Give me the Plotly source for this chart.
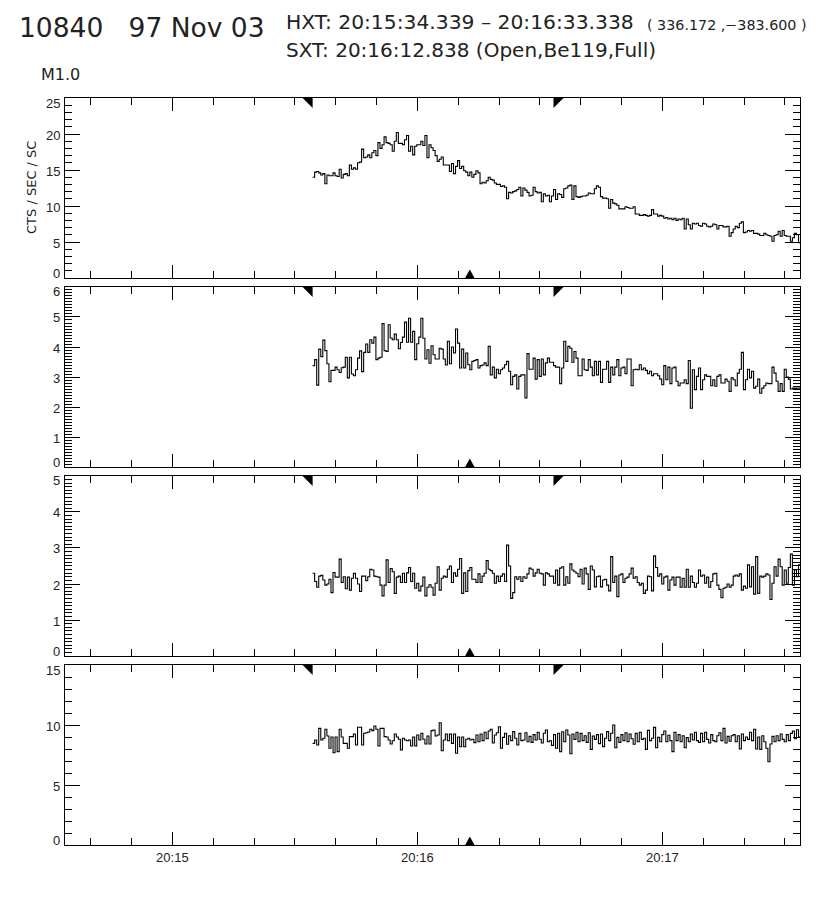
import plotly.graph_objects as go

# ---- time information (seconds after 20:00:00 UT) ----
HXT_START = 934.339   # 20:15:34.339
HXT_END = 993.338     # 20:16:33.338
SXT_TIME = 972.838    # 20:16:12.838
BIN_WIDTH = 0.5
X_RANGE = [873.7, 1053.7]
X_TICK_VALS = [900, 960, 1020]
X_TICK_TEXT = ["20:15", "20:16", "20:17"]

# ---- count rates, CTS / SEC / SC ----
panel1 = [
    14.0, 14.7, 14.8, 14.6, 14.3, 14.5, 13.1, 14.3, 14.2, 14.2,
    14.6, 14.2, 14.1, 15.1, 13.9, 14.4, 14.5, 14.2, 15.7, 15.1,
    15.3, 15.1, 16.0, 16.1, 17.9, 16.7, 16.8, 17.1, 16.7, 17.4,
    17.7, 17.0, 18.8, 18.0, 18.5, 19.6, 18.8, 18.7, 18.5, 17.6,
    19.0, 20.2, 18.7, 18.7, 18.5, 19.2, 19.8, 17.6, 18.3, 17.1,
    18.3, 18.5, 18.5, 19.0, 18.4, 19.8, 16.7, 18.5, 18.1, 17.7,
    17.0, 16.2, 16.5, 16.8, 15.7, 15.7, 15.7, 14.8, 15.9, 14.5,
    15.5, 16.3, 15.2, 15.5, 14.9, 14.7, 14.2, 14.7, 14.0, 14.4,
    14.9, 14.6, 13.1, 13.3, 13.2, 13.5, 14.0, 13.7, 13.6, 13.2,
    13.0, 13.0, 12.7, 12.8, 12.6, 11.0, 11.9, 11.8, 12.0, 12.1,
    12.3, 12.6, 11.4, 12.5, 12.2, 11.9, 11.4, 11.5, 12.6, 12.0,
    11.8, 11.9, 10.6, 11.7, 11.4, 11.5, 10.6, 11.4, 12.3, 10.9,
    11.7, 11.6, 11.2, 12.4, 12.5, 12.8, 12.9, 10.9, 12.8, 11.3,
    11.2, 11.3, 11.4, 11.4, 11.5, 11.8, 11.7, 11.7, 12.4, 12.8,
    12.6, 11.3, 11.1, 11.1, 11.0, 9.7, 10.9, 10.4, 10.3, 10.1,
    9.6, 9.6, 9.6, 9.9, 9.8, 9.7, 9.7, 9.9, 8.9, 8.9,
    8.7, 8.7, 8.8, 8.7, 8.6, 8.7, 9.5, 8.9, 8.9, 8.6,
    8.7, 8.6, 8.3, 8.4, 8.2, 8.3, 8.1, 8.3, 8.0, 8.2,
    8.1, 8.3, 6.8, 8.2, 7.4, 6.8, 7.6, 7.5, 7.6, 7.3,
    7.2, 7.6, 7.5, 7.2, 7.1, 7.2, 7.5, 7.4, 6.8, 7.3,
    7.3, 7.1, 7.1, 7.2, 5.8, 6.3, 6.8, 7.2, 7.0, 7.6,
    7.8, 6.3, 6.4, 6.6, 6.5, 6.6, 6.2, 6.2, 6.1, 5.9,
    5.9, 6.2, 6.0, 5.9, 5.8, 5.1, 5.9, 6.0, 6.5, 5.8,
    6.6, 5.9, 5.8, 5.8, 5.1, 5.6, 6.2, 6.0, 4.9, 5.3,
]

panel2 = [
    3.38, 3.58, 2.73, 3.93, 3.68, 4.23, 3.88, 3.44, 2.84, 3.22,
    3.22, 3.33, 3.24, 3.15, 3.31, 3.33, 3.66, 2.97, 3.66, 3.10,
    3.04, 3.24, 3.63, 3.87, 3.18, 3.82, 4.10, 3.82, 4.24, 4.13,
    4.33, 3.58, 3.63, 3.66, 4.78, 3.88, 3.85, 4.74, 4.30, 4.24,
    4.43, 4.24, 3.94, 4.15, 4.33, 4.83, 4.16, 4.96, 4.16, 4.52,
    3.58, 4.11, 4.33, 4.96, 4.29, 3.60, 3.91, 3.46, 4.04, 3.74,
    3.60, 3.60, 3.96, 3.93, 3.60, 3.40, 4.19, 3.44, 4.00, 3.80,
    4.60, 4.13, 3.30, 3.93, 3.30, 3.80, 3.41, 3.24, 3.52, 3.55,
    3.58, 3.30, 3.38, 3.40, 3.47, 3.38, 4.02, 3.07, 3.33, 2.97,
    3.26, 3.11, 3.24, 3.30, 3.41, 3.52, 3.19, 2.74, 3.02, 3.07,
    2.60, 3.02, 3.07, 3.07, 2.30, 3.78, 3.26, 3.26, 3.63, 2.93,
    3.58, 3.02, 3.60, 3.07, 3.47, 3.63, 3.49, 3.49, 3.38, 3.33,
    3.33, 2.78, 3.30, 4.19, 3.52, 4.02, 3.96, 3.49, 3.85, 3.63,
    3.04, 3.04, 3.60, 3.24, 3.22, 3.58, 3.33, 3.04, 3.52, 3.07,
    3.52, 2.82, 3.26, 3.26, 3.52, 2.82, 3.33, 3.07, 3.33, 3.58,
    3.04, 3.30, 3.33, 3.11, 3.60, 3.60, 2.71, 3.24, 3.26, 3.24,
    3.41, 3.24, 3.30, 3.22, 3.11, 3.19, 3.04, 3.11, 3.11, 3.04,
    2.93, 2.74, 3.38, 2.91, 3.33, 2.78, 3.30, 3.33, 2.86, 2.71,
    2.80, 2.80, 2.91, 2.78, 3.55, 1.96, 3.24, 2.58, 3.02, 3.30,
    2.58, 2.91, 3.07, 3.02, 3.02, 2.71, 2.91, 2.69, 3.02, 3.07,
    2.80, 2.80, 2.93, 2.86, 2.52, 2.97, 2.91, 2.71, 3.13, 3.26,
    3.82, 2.58, 2.91, 3.26, 2.97, 3.19, 2.63, 2.69, 2.93, 2.46,
    2.63, 2.71, 2.80, 2.78, 2.78, 3.33, 3.13, 2.86, 2.52, 2.78,
    2.52, 3.26, 3.00, 2.93, 2.60, 2.63, 2.62, 2.63, 2.63, 2.63,
]

panel3 = [
    2.30, 2.07, 1.91, 2.22, 2.24, 2.11, 1.97, 2.00, 2.13, 1.76,
    2.32, 2.19, 2.19, 2.69, 2.04, 2.20, 1.87, 2.19, 1.83, 2.16,
    2.30, 2.16, 2.00, 1.79, 2.22, 2.22, 2.09, 2.20, 2.41, 2.39,
    2.22, 2.20, 2.19, 1.97, 1.67, 1.97, 2.67, 2.04, 2.43, 2.34,
    1.74, 2.19, 2.22, 2.04, 2.30, 2.04, 2.31, 2.46, 2.07, 2.30,
    1.88, 2.02, 1.81, 1.94, 2.19, 1.67, 1.91, 1.98, 1.91, 1.69,
    2.02, 2.48, 1.83, 2.16, 2.22, 2.19, 2.41, 2.50, 2.04, 2.31,
    2.22, 2.41, 2.71, 1.74, 2.31, 1.79, 2.37, 2.46, 2.13, 2.13,
    2.04, 2.28, 2.04, 2.22, 2.30, 2.65, 2.41, 2.37, 2.30, 2.02,
    2.22, 2.07, 2.22, 2.28, 2.07, 3.08, 2.50, 1.60, 1.76, 2.20,
    2.13, 2.20, 2.07, 2.20, 2.16, 2.28, 2.44, 2.41, 2.22, 2.31,
    2.41, 2.30, 2.28, 1.97, 2.31, 2.28, 2.22, 2.22, 2.02, 2.39,
    1.97, 2.44, 2.48, 1.97, 2.20, 2.02, 2.56, 2.39, 2.34, 2.30,
    2.20, 2.41, 2.00, 2.44, 2.28, 1.85, 2.50, 2.39, 1.92, 2.20,
    2.22, 1.92, 2.11, 2.13, 1.97, 1.81, 2.76, 2.04, 2.22, 1.65,
    2.25, 2.28, 2.04, 2.16, 2.19, 2.28, 2.44, 2.16, 2.20, 2.04,
    1.97, 2.02, 1.74, 1.83, 2.22, 2.20, 1.81, 2.78, 2.46, 2.22,
    2.28, 2.00, 2.19, 2.22, 1.83, 2.11, 2.19, 1.97, 2.19, 2.19,
    1.91, 2.16, 1.91, 2.41, 1.91, 2.22, 2.04, 1.91, 2.02, 2.39,
    2.22, 2.25, 2.02, 2.19, 1.91, 2.07, 2.28, 2.30, 1.97, 1.85,
    1.62, 1.88, 1.91, 2.00, 1.91, 1.97, 2.22, 2.25, 2.22, 2.28,
    1.83, 1.94, 1.88, 2.53, 1.92, 2.48, 1.72, 2.76, 1.74, 2.22,
    2.19, 2.22, 2.28, 2.25, 1.57, 2.02, 2.48, 2.22, 2.69, 2.48,
    1.97, 2.39, 2.02, 2.46, 2.83, 1.97, 2.39, 2.20, 2.53, 2.20,
]

panel4 = [
    8.47, 8.75, 8.33, 9.72, 8.75, 8.89, 9.64, 9.08, 8.06, 9.00,
    7.69, 9.00, 7.78, 9.64, 9.00, 8.47, 8.47, 8.06, 9.03, 9.03,
    9.25, 8.33, 9.81, 9.81, 8.33, 9.31, 9.36, 9.42, 9.64, 9.53,
    9.92, 9.64, 8.25, 9.72, 9.72, 9.03, 9.00, 8.75, 8.42, 8.69,
    9.25, 9.00, 8.81, 7.92, 8.89, 8.75, 8.69, 8.75, 8.25, 9.00,
    8.25, 9.17, 8.75, 9.31, 8.81, 8.42, 9.08, 8.42, 9.53, 9.58,
    9.08, 9.17, 10.19, 7.86, 8.75, 9.25, 8.69, 9.25, 8.47, 9.25,
    7.64, 9.00, 8.19, 9.00, 8.19, 8.81, 8.89, 8.75, 8.81, 8.53,
    9.17, 8.60, 9.25, 8.70, 9.40, 8.85, 9.50, 9.64, 8.50, 9.17,
    9.36, 9.86, 8.06, 8.97, 9.31, 8.40, 9.10, 8.70, 9.45, 8.89,
    8.33, 9.30, 8.70, 8.75, 9.35, 8.60, 9.05, 8.55, 9.20, 8.75,
    9.40, 8.81, 8.50, 9.31, 9.58, 8.60, 8.69, 8.30, 9.20, 8.06,
    9.31, 7.78, 9.44, 8.60, 9.58, 9.17, 7.60, 9.25, 8.80, 9.40,
    8.60, 9.30, 8.70, 9.10, 8.55, 9.35, 7.97, 9.08, 8.80, 9.20,
    8.45, 9.25, 8.20, 8.90, 9.45, 8.70, 9.31, 10.00, 8.10, 8.97,
    8.55, 9.20, 8.70, 9.35, 8.60, 9.25, 8.85, 8.40, 9.30, 8.60,
    9.40, 8.80, 8.90, 7.97, 9.55, 8.70, 8.89, 9.80, 8.10, 8.97,
    8.60, 9.20, 9.50, 8.60, 9.15, 8.70, 7.78, 9.40, 8.70, 9.20,
    8.60, 9.10, 8.10, 8.95, 8.60, 9.25, 8.75, 9.40, 8.70, 8.55,
    9.30, 8.60, 9.40, 8.80, 8.50, 9.20, 8.70, 8.60, 9.10, 9.35,
    8.70, 9.72, 8.50, 9.05, 8.65, 9.10, 9.20, 8.60, 9.10, 8.00,
    9.25, 8.70, 9.00, 8.80, 9.40, 8.70, 9.64, 8.00, 9.00, 7.97,
    9.10, 8.60, 8.06, 6.94, 8.42, 9.05, 8.60, 9.10, 8.70, 9.25,
    8.80, 8.60, 9.20, 8.70, 9.30, 9.50, 8.85, 9.60, 9.00, 9.10,
]

Y_RANGES = [[0, 25], [0, 6], [0, 5], [0, 15]]
Y_DTICKS = [5, 1, 1, 5]
Y_MINOR = [1, 0.1, 0.1, 1]

HEADER_MAIN = "10840   97 Nov 03"
HEADER_HXT = "HXT: 20:15:34.339 \u2013 20:16:33.338"
HEADER_POS = "( 336.172 ,\u2212383.600 )"
HEADER_SXT = "SXT: 20:16:12.838 (Open,Be119,Full)"
HEADER_M = "M1.0"
Y_TITLE = "CTS / SEC / SC"

# ---------------- layout geometry ----------------
# the page body has an 8 px margin; figure is sized so the plot lands where the reference has it
W, H = 808, 892
ML, MR, MT, MB = 57, 16, 90, 55
PW, PH = W - ML - MR, H - MT - MB
DOMAINS = [[0.7590, 1.0], [0.5060, 0.7470], [0.2530, 0.4940], [0.0, 0.24096]]
FONT = "DejaVu Sans"
TFONT = "Liberation Sans"


def fx(px):
    # page pixel -> paper x
    return (px - 8 - ML) / PW


def fy(py):
    # page pixel -> paper y
    return (H - MB - (py - 8)) / PH


fig = go.Figure()
series = [panel1, panel2, panel3, panel4]
for k, vals in enumerate(series):
    n = len(vals)
    xs = [HXT_START + BIN_WIDTH * i for i in range(n + 1)]
    ys = list(vals) + [vals[-1]]
    sfx = "" if k == 0 else str(k + 1)
    fig.add_trace(go.Scatter(
        x=xs, y=ys, mode="lines", line=dict(color="black", width=1.1, shape="hv"),
        xaxis="x" + sfx, yaxis="y" + sfx, showlegend=False, hoverinfo="skip",
    ))

layout = dict(
    width=W, height=H, margin=dict(l=ML, r=MR, t=MT, b=MB),
    paper_bgcolor="white", plot_bgcolor="white", showlegend=False,
    font=dict(family=TFONT, size=13, color="#222"),
)

for k in range(4):
    sfx = "" if k == 0 else str(k + 1)
    xa = dict(
        domain=[0, 1], anchor="y" + sfx, range=X_RANGE,
        tickmode="array", tickvals=X_TICK_VALS, ticktext=X_TICK_TEXT,
        showticklabels=(k == 3), ticks="inside", ticklen=13, tickwidth=1.2,
        tickcolor="black", showline=True, linecolor="black", linewidth=1.4,
        mirror="allticks", showgrid=False, zeroline=False,
        minor=dict(tickmode="linear", tick0=0, dtick=10, ticks="inside",
                   ticklen=7, tickwidth=1.2, tickcolor="black", showgrid=False),
        tickfont=dict(family=TFONT, size=13, color="#222"),
    )
    if k > 0:
        xa["matches"] = "x"
    ya = dict(
        domain=DOMAINS[k], anchor="x" + sfx, range=Y_RANGES[k],
        tickmode="linear", tick0=0, dtick=Y_DTICKS[k], showticklabels=False,
        ticks="inside", ticklen=15, tickwidth=1.2, tickcolor="black",
        showline=True, linecolor="black", linewidth=1.4, mirror="allticks",
        showgrid=False, zeroline=False,
        minor=dict(tickmode="linear", tick0=0, dtick=Y_MINOR[k], ticks="inside",
                   ticklen=7, tickwidth=1.0, tickcolor="black", showgrid=False),
    )
    layout["xaxis" + sfx] = xa
    layout["yaxis" + sfx] = ya

fig.update_layout(**layout)

# ---- y tick labels (end labels nudged inward as in the reference) ----
for k in range(4):
    sfx = "" if k == 0 else str(k + 1)
    lo, hi = Y_RANGES[k]
    v = lo
    while v <= hi + 1e-9:
        shift = 5 if v == lo else (-5 if abs(v - hi) < 1e-9 else -1)
        fig.add_annotation(xref="paper", yref="y" + sfx, x=fx(62), y=v, text=str(int(v)),
                           xanchor="right", yanchor="middle", yshift=shift, showarrow=False,
                           font=dict(family=TFONT, size=13, color="#222"))
        v += Y_DTICKS[k]

# ---- markers: HXT interval (top) and SXT image time (bottom) ----
shapes = []
tw = 2.45     # seconds
th = 10 / 180.0
bw = 2.3
bh = 8.5 / 180.0
for k in range(4):
    sfx = "" if k == 0 else str(k + 1)
    xr, yr = "x" + sfx, "y" + sfx + " domain"
    shapes.append(dict(type="path", xref=xr, yref=yr, fillcolor="black", line=dict(width=0),
                       path=f"M{HXT_START - tw},1 L{HXT_START},1 L{HXT_START},{1 - th} Z"))
    shapes.append(dict(type="path", xref=xr, yref=yr, fillcolor="black", line=dict(width=0),
                       path=f"M{HXT_END},1 L{HXT_END + tw},1 L{HXT_END},{1 - th} Z"))
    shapes.append(dict(type="path", xref=xr, yref=yr, fillcolor="black", line=dict(width=0),
                       path=f"M{SXT_TIME - bw / 2},0 L{SXT_TIME + bw / 2},0 L{SXT_TIME},{bh} Z"))
fig.update_layout(shapes=shapes)

# ---- header text ----
ann = [
    dict(text=HEADER_MAIN, x=fx(17), y=fy(28), font=dict(family=FONT, size=26.5, color="#222")),
    dict(text=HEADER_HXT, x=fx(284), y=fy(22), font=dict(family=FONT, size=20.3, color="#222")),
    dict(text=HEADER_POS, x=fx(645), y=fy(25), font=dict(family=FONT, size=14.3, color="#222")),
    dict(text=HEADER_SXT, x=fx(284), y=fy(50), font=dict(family=FONT, size=20, color="#222")),
    dict(text=HEADER_M, x=fx(39), y=fy(74), font=dict(family=FONT, size=16, color="#222")),
]
for a in ann:
    fig.add_annotation(xref="paper", yref="paper", xanchor="left", yanchor="middle",
                       showarrow=False, **a)
fig.add_annotation(xref="paper", yref="paper", x=fx(31), y=fy(188), text=Y_TITLE,
                   textangle=-90, showarrow=False, xanchor="center", yanchor="middle",
                   font=dict(family=FONT, size=13, color="#222"))

fig.write_html("out.html")
